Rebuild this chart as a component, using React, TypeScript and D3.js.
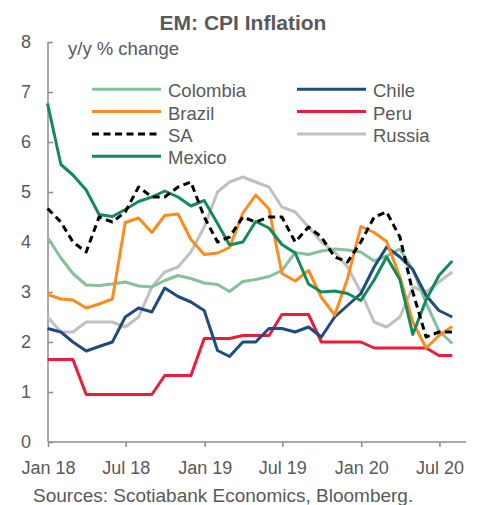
import React, { useEffect, useRef } from 'react';
import * as d3 from 'd3';

// month of each observation (Dec 2017 .. Jul 2020)
const months = [
  '2017-12', '2018-01', '2018-02', '2018-03', '2018-04', '2018-05', '2018-06', '2018-07',
  '2018-08', '2018-09', '2018-10', '2018-11', '2018-12', '2019-01', '2019-02', '2019-03',
  '2019-04', '2019-05', '2019-06', '2019-07', '2019-08', '2019-09', '2019-10', '2019-11',
  '2019-12', '2020-01', '2020-02', '2020-03', '2020-04', '2020-05', '2020-06', '2020-07',
];

const colombia = [4.09, 3.68, 3.37, 3.14, 3.13, 3.16, 3.2, 3.12, 3.1, 3.23, 3.33, 3.27, 3.18, 3.15, 3.01, 3.21,
  3.25, 3.31, 3.43, 3.79, 3.75, 3.82, 3.86, 3.84, 3.8, 3.62, 3.72, 3.86, 3.45, 2.78, 2.22, 1.97];
const chile = [2.27, 2.2, 2.0, 1.82, 1.91, 2.0, 2.5, 2.68, 2.6, 3.08, 2.91, 2.8, 2.63, 1.83, 1.71, 2.0,
  2.0, 2.27, 2.27, 2.2, 2.3, 2.1, 2.5, 2.73, 2.97, 3.5, 3.9, 3.7, 3.45, 2.93, 2.63, 2.5];
const brazil = [2.95, 2.86, 2.84, 2.68, 2.76, 2.86, 4.39, 4.48, 4.19, 4.53, 4.56, 4.05, 3.75, 3.78, 3.89, 4.58,
  4.94, 4.66, 3.37, 3.22, 3.43, 2.89, 2.54, 3.27, 4.31, 4.19, 4.01, 3.3, 2.4, 1.88, 2.13, 2.31];
const peru = [1.65, 1.65, 1.65, 0.95, 0.95, 0.95, 0.95, 0.95, 0.95, 1.33, 1.33, 1.33, 2.07, 2.07, 2.07, 2.13,
  2.13, 2.13, 2.55, 2.55, 2.55, 2.0, 2.0, 2.0, 2.0, 1.88, 1.88, 1.88, 1.88, 1.88, 1.73, 1.73];
const sa = [4.67, 4.4, 4.0, 3.8, 4.5, 4.4, 4.6, 5.1, 4.9, 4.9, 5.1, 5.2, 4.5, 4.0, 4.1, 4.5,
  4.4, 4.5, 4.5, 4.0, 4.3, 4.1, 3.7, 3.6, 4.0, 4.5, 4.6, 4.1, 3.0, 2.1, 2.2, 2.2];
const russia = [2.5, 2.2, 2.2, 2.4, 2.4, 2.4, 2.3, 2.5, 3.1, 3.4, 3.5, 3.8, 4.3, 5.0, 5.2, 5.3,
  5.2, 5.1, 4.7, 4.6, 4.3, 4.0, 3.8, 3.5, 3.0, 2.4, 2.3, 2.5, 3.1, 3.0, 3.2, 3.4];
const mexico = [6.77, 5.55, 5.34, 5.04, 4.55, 4.51, 4.65, 4.81, 4.9, 5.02, 4.9, 4.72, 4.83, 4.37, 3.94, 4.0,
  4.41, 4.28, 3.95, 3.78, 3.16, 3.0, 3.02, 2.97, 2.83, 3.24, 3.7, 3.25, 2.15, 2.84, 3.33, 3.62];

const yTicks = [0, 1, 2, 3, 4, 5, 6, 7, 8];

const series = [
  { name: 'Russia', values: russia, color: '#c0c0c0', dash: null },
  { name: 'Colombia', values: colombia, color: '#85c19a', dash: null },
  { name: 'Peru', values: peru, color: '#ec1c38', dash: null },
  { name: 'Chile', values: chile, color: '#1f4b7e', dash: null },
  { name: 'Brazil', values: brazil, color: '#ff8b1f', dash: null },
  { name: 'Mexico', values: mexico, color: '#128a5c', dash: null },
  { name: 'SA', values: sa, color: '#000000', dash: '7,4.5' },
];

// legend layout: two columns
const legendLeft = ['Colombia', 'Brazil', 'SA', 'Mexico'];
const legendRight = ['Chile', 'Peru', 'Russia'];

const FONT = '"Liberation Sans", Arial, sans-serif';
const TEXT = '#595959';
const AXIS = '#8c8c8c';

const App = () => {
  const svgRef = useRef<SVGSVGElement>(null);

  useEffect(() => {
    const width = 483;
    const height = 505;
    const margin = { top: 42, left: 48, right: 17, bottom: 63 };

    const svg = d3.select(svgRef.current);
    svg.selectAll('*').remove();
    svg.attr('width', width).attr('height', height);

    // month-end dates
    const parse = d3.timeParse('%Y-%m');
    const dates = months.map(m => d3.timeDay.offset(d3.timeMonth.offset(parse(m) as Date, 1), -1));

    const x = d3.scaleTime()
      .domain([new Date(2018, 0, 1), new Date(2020, 8, 1)])
      .range([margin.left, width - margin.right]);
    const y = d3.scaleLinear()
      .domain([0, 8])
      .range([height - margin.bottom, margin.top]);

    // title
    svg.append('text')
      .attr('x', 243)
      .attr('y', 30)
      .attr('text-anchor', 'middle')
      .attr('font-family', FONT)
      .attr('font-weight', 'bold')
      .attr('font-size', 21)
      .attr('fill', TEXT)
      .text('EM: CPI Inflation');

    svg.append('text')
      .attr('x', 68)
      .attr('y', 55)
      .attr('font-family', FONT)
      .attr('font-size', 18.5)
      .attr('fill', TEXT)
      .text('y/y % change');

    // y axis
    const yAxis = svg.append('g')
      .attr('transform', `translate(${margin.left},0)`)
      .call(d3.axisRight(y).tickValues(yTicks).tickSize(5).tickFormat(d3.format('d')));
    yAxis.select('.domain').attr('stroke', AXIS).attr('stroke-width', 1.5).attr('d', `M0,${y(8)}V${y(0)}`);
    yAxis.selectAll('.tick line').attr('stroke', AXIS).attr('stroke-width', 1.5);
    yAxis.selectAll('.tick text')
      .attr('x', -17)
      .attr('text-anchor', 'end')
      .attr('font-family', FONT)
      .attr('font-size', 18)
      .attr('fill', TEXT);

    // x axis
    const xAxis = svg.append('g')
      .attr('transform', `translate(0,${y(0)})`)
      .call(d3.axisBottom(x).ticks(d3.timeMonth.every(6)).tickSize(5).tickFormat(d3.timeFormat('%b %y') as any));
    xAxis.select('.domain').attr('stroke', AXIS).attr('stroke-width', 1.5)
      .attr('d', `M${margin.left},0H${width - margin.right}`);
    xAxis.selectAll('.tick line').attr('stroke', AXIS).attr('stroke-width', 1.5);
    xAxis.selectAll('.tick text')
      .attr('y', 19)
      .attr('font-family', FONT)
      .attr('font-size', 18)
      .attr('fill', TEXT);

    // lines
    const line = d3.line<number>()
      .x((_, i) => x(dates[i]))
      .y(d => y(d));

    series.forEach(s => {
      svg.append('path')
        .datum(s.values)
        .attr('d', line)
        .attr('fill', 'none')
        .attr('stroke', s.color)
        .attr('stroke-width', 3)
        .attr('stroke-linejoin', 'round')
        .attr('stroke-dasharray', s.dash);
    });

    // legend
    const drawLegend = (names: string[], x0: number) => {
      names.forEach((n, i) => {
        const s = series.find(d => d.name === n)!;
        const ly = 89.3 + i * 22.3;
        svg.append('line')
          .attr('x1', x0).attr('x2', x0 + 69)
          .attr('y1', ly).attr('y2', ly)
          .attr('stroke', s.color)
          .attr('stroke-width', 3)
          .attr('stroke-dasharray', s.dash);
        svg.append('text')
          .attr('x', x0 + 76)
          .attr('y', ly + 8)
          .attr('font-family', FONT)
          .attr('font-size', 18.5)
          .attr('fill', TEXT)
          .text(n);
      });
    };
    drawLegend(legendLeft, 92);
    drawLegend(legendRight, 297);

    // source note
    svg.append('text')
      .attr('x', 33)
      .attr('y', 502)
      .attr('font-family', FONT)
      .attr('font-size', 19)
      .attr('fill', TEXT)
      .text('Sources: Scotiabank Economics, Bloomberg.');
  }, []);

  return (
    <svg ref={svgRef} style={{ position: 'absolute', left: 0, top: 0, background: '#fff' }}></svg>
  );
};

export default App;
